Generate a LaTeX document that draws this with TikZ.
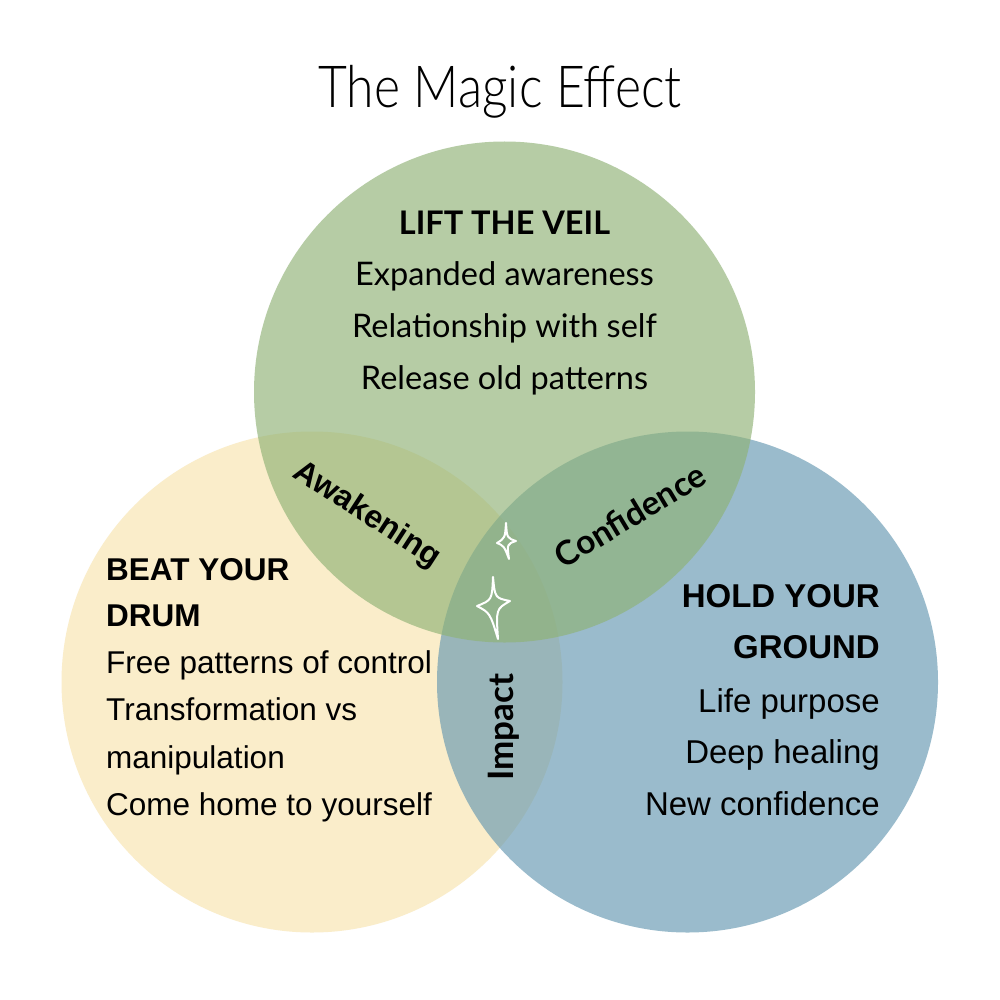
\documentclass[tikz,border=0pt]{standalone}
\usepackage{fontspec}
\setmainfont{Liberation Sans}
\newfontfamily\latofont{Lato}
\newfontfamily\titlefont{Lato Light}
\definecolor{cyellow}{RGB}{250,237,202}
\definecolor{cgreen}{RGB}{143,178,117}
\definecolor{cblue}{RGB}{101,152,177}
\tikzset{
  toptxt/.style={anchor=base,inner sep=0pt,font=\latofont\fontsize{32.5}{36}\selectfont},
  lefttxt/.style={anchor=base west,inner sep=0pt,font=\fontsize{31.5}{36}\selectfont},
  righttxt/.style={anchor=base east,inner sep=0pt,font=\fontsize{33}{38}\selectfont},
  overlap/.style={inner sep=0pt,font=\bfseries\fontsize{32}{34}\selectfont},
  sparkle/.style={draw=white,line width=2pt,line join=round,fill=none}
}
\begin{document}
\begin{tikzpicture}[x=1pt,y=-1pt]
\useasboundingbox (0,0) rectangle (1000,1000);
\fill[white] (0,0) rectangle (1000,1000);
% circles
\fill[cyellow] (312,682) circle[radius=250.5];
\fill[cblue,opacity=0.65] (687.5,682) circle[radius=250.5];
\fill[cgreen,opacity=0.65] (504.5,392) circle[radius=250.5];
% title
\node (title) at (500,92) {\titlefont\fontsize{58}{62}\selectfont\scalebox{0.86}[1]{The Magic Effect}};
% top
\node[toptxt] (t1) at (504.5,234) {\bfseries LIFT THE VEIL};
\node[toptxt] (t2) at (504.5,285) {Expanded awareness};
\node[toptxt] (t3) at (504.5,337) {Relationship with self};
\node[toptxt] (t4) at (504.5,389) {Release old patterns};
% left
\node[lefttxt] (l1) at (106,580) {\bfseries BEAT YOUR};
\node[lefttxt] (l2) at (106,626) {\bfseries DRUM};
\node[lefttxt] (l3) at (106,673) {Free patterns of control};
\node[lefttxt] (l4) at (106,720) {Transformation vs};
\node[lefttxt] (l5) at (106,768) {manipulation};
\node[lefttxt] (l6) at (106,815) {Come home to yourself};
% right
\node[righttxt] (r1) at (880,607) {\bfseries HOLD YOUR};
\node[righttxt] (r2) at (880,658) {\bfseries GROUND};
\node[righttxt] (r3) at (880,712) {Life purpose};
\node[righttxt] (r4) at (880,763) {Deep healing};
\node[righttxt] (r5) at (880,815) {New confidence};
% overlaps
\node[overlap,rotate=-33] (awak) at (367,515) {Awakening};
\node[overlap,rotate=31,font=\latofont\bfseries\fontsize{33.5}{36}\selectfont] (conf) at (630,515) {Confidence};
\node[overlap,rotate=90,font=\latofont\bfseries\fontsize{35}{38}\selectfont] (imp) at (504,727) {Impact};
% sparkles
\draw[sparkle] (506,523) .. controls (507,538) .. (516,541) .. controls (507,544) .. (509,559)
  .. controls (504,546) .. (497,543) .. controls (505,538) .. cycle;
\draw[sparkle] (493,577) .. controls (495,598) .. (510,601) .. controls (496,609) .. (498,639)
  .. controls (490,613) .. (477,606) .. controls (492,600) .. cycle;
\end{tikzpicture}
\end{document}
